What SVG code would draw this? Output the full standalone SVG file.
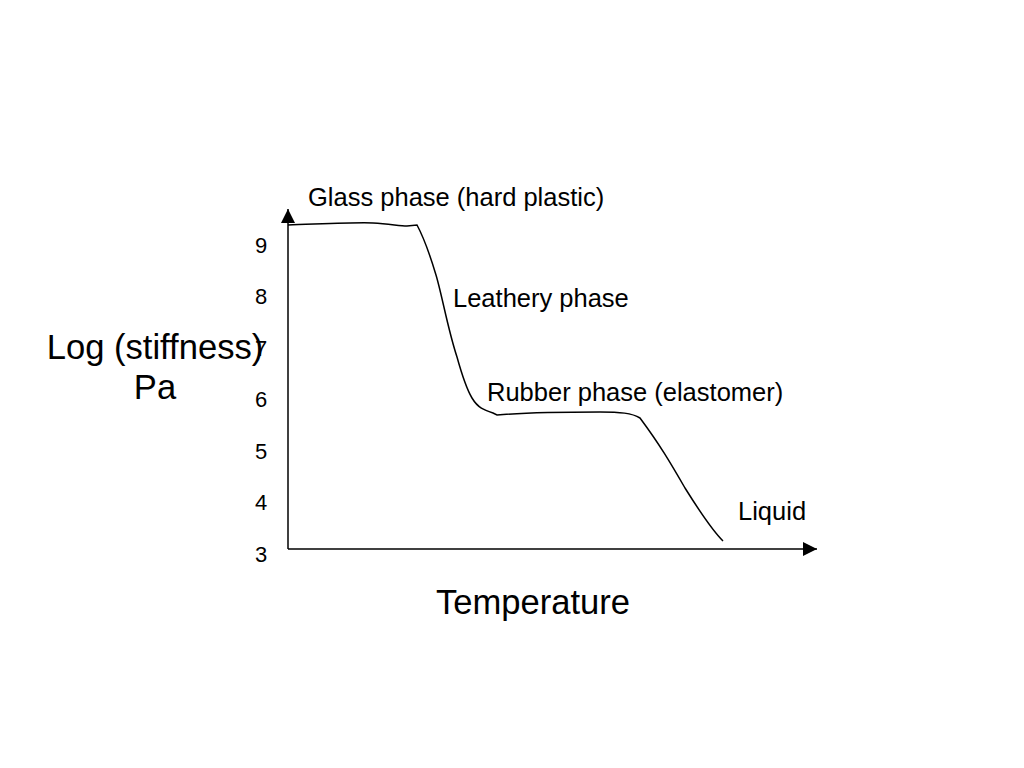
<svg xmlns="http://www.w3.org/2000/svg" width="1024" height="768" viewBox="0 0 1024 768">
<style>
text{font-family:"Liberation Sans",Arial,sans-serif;fill:#000}
.lbl{font-size:25.5px}
.num{font-size:22px}
.big{font-size:34.6px}
.ln{fill:none;stroke:#000;stroke-width:1.5}
</style>
<defs>
<marker id="ah" markerWidth="14" markerHeight="14" refX="14" refY="7" orient="auto" markerUnits="userSpaceOnUse">
<path d="M0,0 L14,7 L0,14 Z" fill="#000"/>
</marker>
</defs>
<rect width="1024" height="768" fill="#fff"/>
<g id="connectors">
<line class="ln" x1="288" y1="549" x2="288" y2="209" marker-end="url(#ah)"/>
<line class="ln" x1="288" y1="549" x2="817" y2="549" marker-end="url(#ah)"/>
<path id="curve" class="ln" d="M288,225 C320,224 360,222 373,223 C390,224 400,226 407,226 L417,225 C424,238 430,255 436,275 C442,295 448,330 457,357 C462,375 466,388 472,398 C478,408 484,410 493,413 L497,415 C520,413 560,412 600,412 C620,412 632,413 640,418 C660,445 670,462 685,488 C700,512 712,530 723,541"/>
</g>
<g id="ticks">
<text class="num" x="255" y="253">9</text>
<text class="num" x="255" y="304">8</text>
<text class="num" x="255" y="356">7</text>
<text class="num" x="255" y="407">6</text>
<text class="num" x="255" y="459">5</text>
<text class="num" x="255" y="510">4</text>
<text class="num" x="255" y="562">3</text>
</g>
<g id="ylabel">
<text class="big" x="155" y="359" text-anchor="middle">Log (stiffness)</text>
<text class="big" x="155" y="399" text-anchor="middle">Pa</text>
</g>
<g id="xlabel"><text class="big" x="533" y="614" text-anchor="middle">Temperature</text></g>
<g id="glass"><text class="lbl" x="308" y="206">Glass phase (hard plastic)</text></g>
<g id="leathery"><text class="lbl" x="453" y="307">Leathery phase</text></g>
<g id="rubber"><text class="lbl" x="487" y="401">Rubber phase (elastomer)</text></g>
<g id="liquid"><text class="lbl" x="738" y="520">Liquid</text></g>
</svg>
